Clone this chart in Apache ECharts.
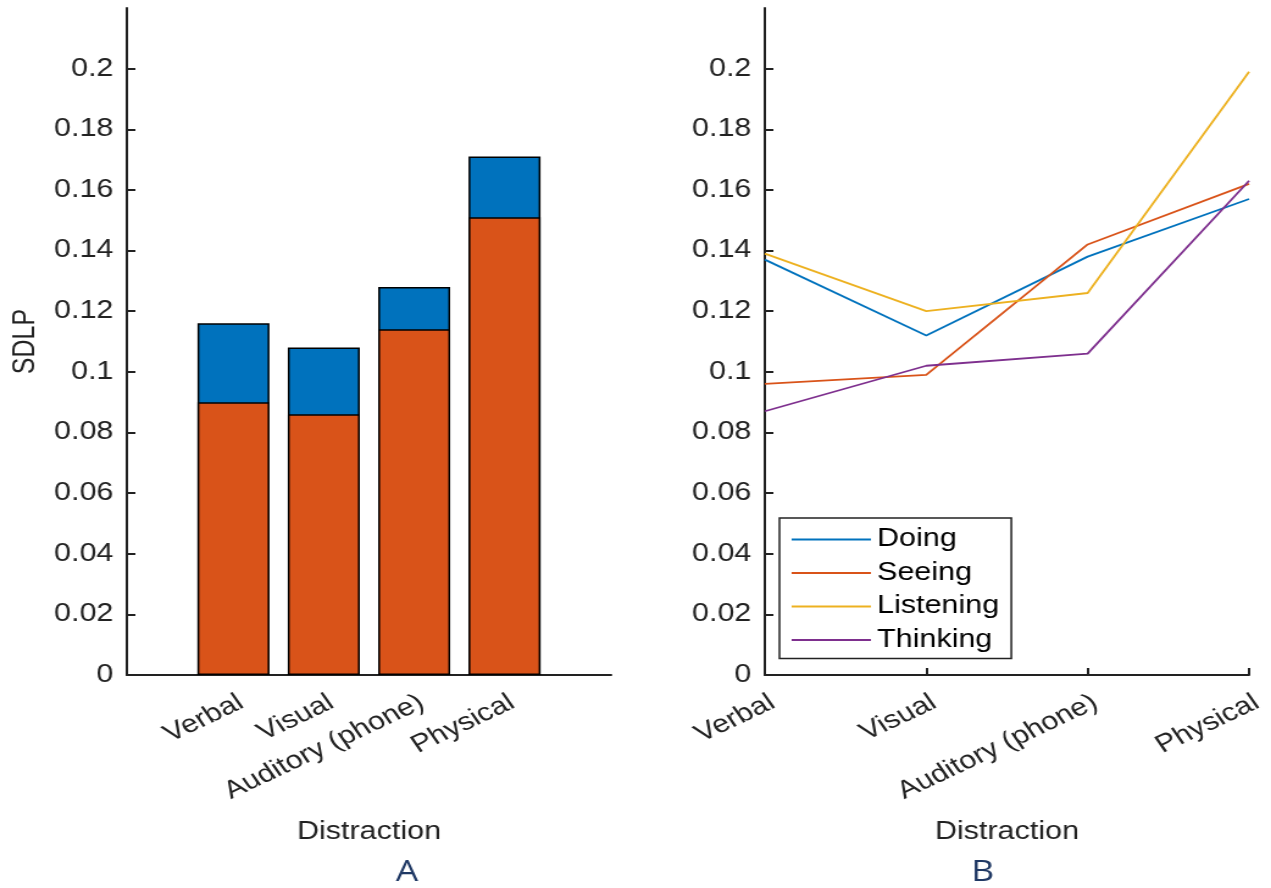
<!DOCTYPE html>
<html>
<head>
<meta charset="utf-8">
<script src="https://cdn.jsdelivr.net/npm/echarts@6/dist/echarts.min.js"></script>
<style>
  html, body { margin: 0; padding: 0; background: #fff; overflow: hidden; }
  #wrap { width: 1271px; height: 888px; overflow: hidden; }
  /* the figure is laid out on a narrower canvas and widened horizontally */
  #chart { width: 1042px; height: 888px; transform: scaleX(1.2198); transform-origin: 0 0; }
</style>
</head>
<body>
<div id="wrap"><div id="chart"></div></div>
<script>
// Distraction conditions (x categories)
const categories = ['Verbal', 'Visual', 'Auditory (phone)', 'Physical'];

// Panel A: SDLP bars (full height and lower part)
const barTotal = [0.116, 0.108, 0.128, 0.171];
const barBase  = [0.090, 0.086, 0.114, 0.151];

// Panel B: SDLP by learning style
const lineNames = ['Doing', 'Seeing', 'Listening', 'Thinking'];
const doing     = [0.137, 0.112, 0.138, 0.157];
const seeing    = [0.096, 0.099, 0.142, 0.162];
const listening = [0.139, 0.120, 0.126, 0.199];
const thinking  = [0.087, 0.102, 0.106, 0.163];

// y-axis tick values
const yTicks = [0, 0.02, 0.04, 0.06, 0.08, 0.1, 0.12, 0.14, 0.16, 0.18, 0.2];
// bar positions on panel A's x scale
const barPos = [1, 2, 3, 4];

const FONT = "'Liberation Sans', Arial, Helvetica, sans-serif";
const AXIS = '#222222';
const BLUE = '#0072BD', ORANGE = '#D95319', YELLOW = '#EDB120', PURPLE = '#7E2F8E';

const chart = echarts.init(document.getElementById('chart'));

function yAxisFor(gridIndex, withName) {
  return {
    type: 'value', gridIndex: gridIndex, min: 0, max: 0.22,
    name: withName ? 'SDLP' : '', nameLocation: 'middle', nameGap: 70, nameMoveOverlap: false,
    nameTextStyle: { fontSize: 25, color: AXIS, fontFamily: FONT },
    axisLine: { show: true, onZero: false, lineStyle: { color: AXIS, width: 2 } },
    axisTick: { show: true, inside: true, length: 7, customValues: yTicks,
                lineStyle: { color: AXIS, width: 2 } },
    axisLabel: { customValues: yTicks, margin: 11, fontSize: 25, color: AXIS, fontFamily: FONT,
                 formatter: v => String(+(+v).toFixed(2)) },
    splitLine: { show: false }
  };
}

const labelStyle = { rotate: 30, verticalAlign: 'top', fontSize: 25, color: AXIS,
                     fontFamily: FONT, margin: 15 };
const nameStyle = { fontSize: 25, color: AXIS, fontFamily: FONT };

const lineData = [doing, seeing, listening, thinking];
const lineColors = [BLUE, ORANGE, YELLOW, PURPLE];

chart.setOption({
  animation: false,
  backgroundColor: '#fff',
  grid: [
    { left: 104, top: 8, width: 397, height: 667, outerBoundsMode: 'none' },
    { left: 627, top: 8, width: 397, height: 667, outerBoundsMode: 'none' }
  ],
  xAxis: [
    {
      type: 'value', gridIndex: 0, min: -0.18, max: 5.18,
      name: 'Distraction', nameLocation: 'middle', nameGap: 145, nameTextStyle: nameStyle,
      axisLine: { show: true, onZero: false, lineStyle: { color: AXIS, width: 2 } },
      axisTick: { show: true, inside: true, length: 5, customValues: barPos,
                  lineStyle: { color: AXIS, width: 2 } },
      axisLabel: Object.assign({ customValues: barPos,
                  formatter: v => categories[Math.round(v) - 1] || '' }, labelStyle),
      splitLine: { show: false }
    },
    {
      type: 'category', gridIndex: 1, data: categories, boundaryGap: false,
      name: 'Distraction', nameLocation: 'middle', nameGap: 145, nameTextStyle: nameStyle,
      axisLine: { show: true, onZero: false, lineStyle: { color: AXIS, width: 2 } },
      axisTick: { show: true, inside: true, length: 7, interval: 0,
                  lineStyle: { color: AXIS, width: 2 } },
      axisLabel: Object.assign({ interval: 0 }, labelStyle),
      splitLine: { show: false }
    }
  ],
  yAxis: [yAxisFor(0, true), yAxisFor(1, false)],
  legend: {
    data: lineNames, orient: 'vertical', left: 639, top: 518,
    itemWidth: 65, itemHeight: 25, itemGap: 8.5,
    padding: [9, 10, 6, 9],
    borderColor: AXIS, borderWidth: 1.5, backgroundColor: '#fff',
    itemStyle: { opacity: 0 },
    textStyle: { fontSize: 25, color: '#000', fontFamily: FONT }
  },
  series: [
    {
      type: 'bar', xAxisIndex: 0, yAxisIndex: 0, barWidth: 59, barGap: '-100%',
      data: barPos.map((x, i) => [x, barTotal[i]]),
      itemStyle: { color: BLUE, borderColor: '#000', borderWidth: 1.5 }, z: 2
    },
    {
      type: 'bar', xAxisIndex: 0, yAxisIndex: 0, barWidth: 59, barGap: '-100%',
      data: barPos.map((x, i) => [x, barBase[i]]),
      itemStyle: { color: ORANGE, borderColor: '#000', borderWidth: 1.5 }, z: 3
    }
  ].concat(lineNames.map((n, i) => ({
    type: 'line', name: n, xAxisIndex: 1, yAxisIndex: 1,
    data: lineData[i], symbol: 'none',
    lineStyle: { color: lineColors[i], width: 1.8 }, itemStyle: { color: lineColors[i] }
  }))),
  graphic: [
    { type: 'text', x: 333.6, y: 873, style: { text: 'A', fontSize: 29, fill: '#1F3864',
      fontFamily: "'Open Sans', 'Noto Sans', sans-serif", textAlign: 'center', textVerticalAlign: 'middle' } },
    { type: 'text', x: 805.7, y: 873, style: { text: 'B', fontSize: 29, fill: '#1F3864',
      fontFamily: "'Open Sans', 'Noto Sans', sans-serif", textAlign: 'center', textVerticalAlign: 'middle' } }
  ]
});
</script>
</body>
</html>
